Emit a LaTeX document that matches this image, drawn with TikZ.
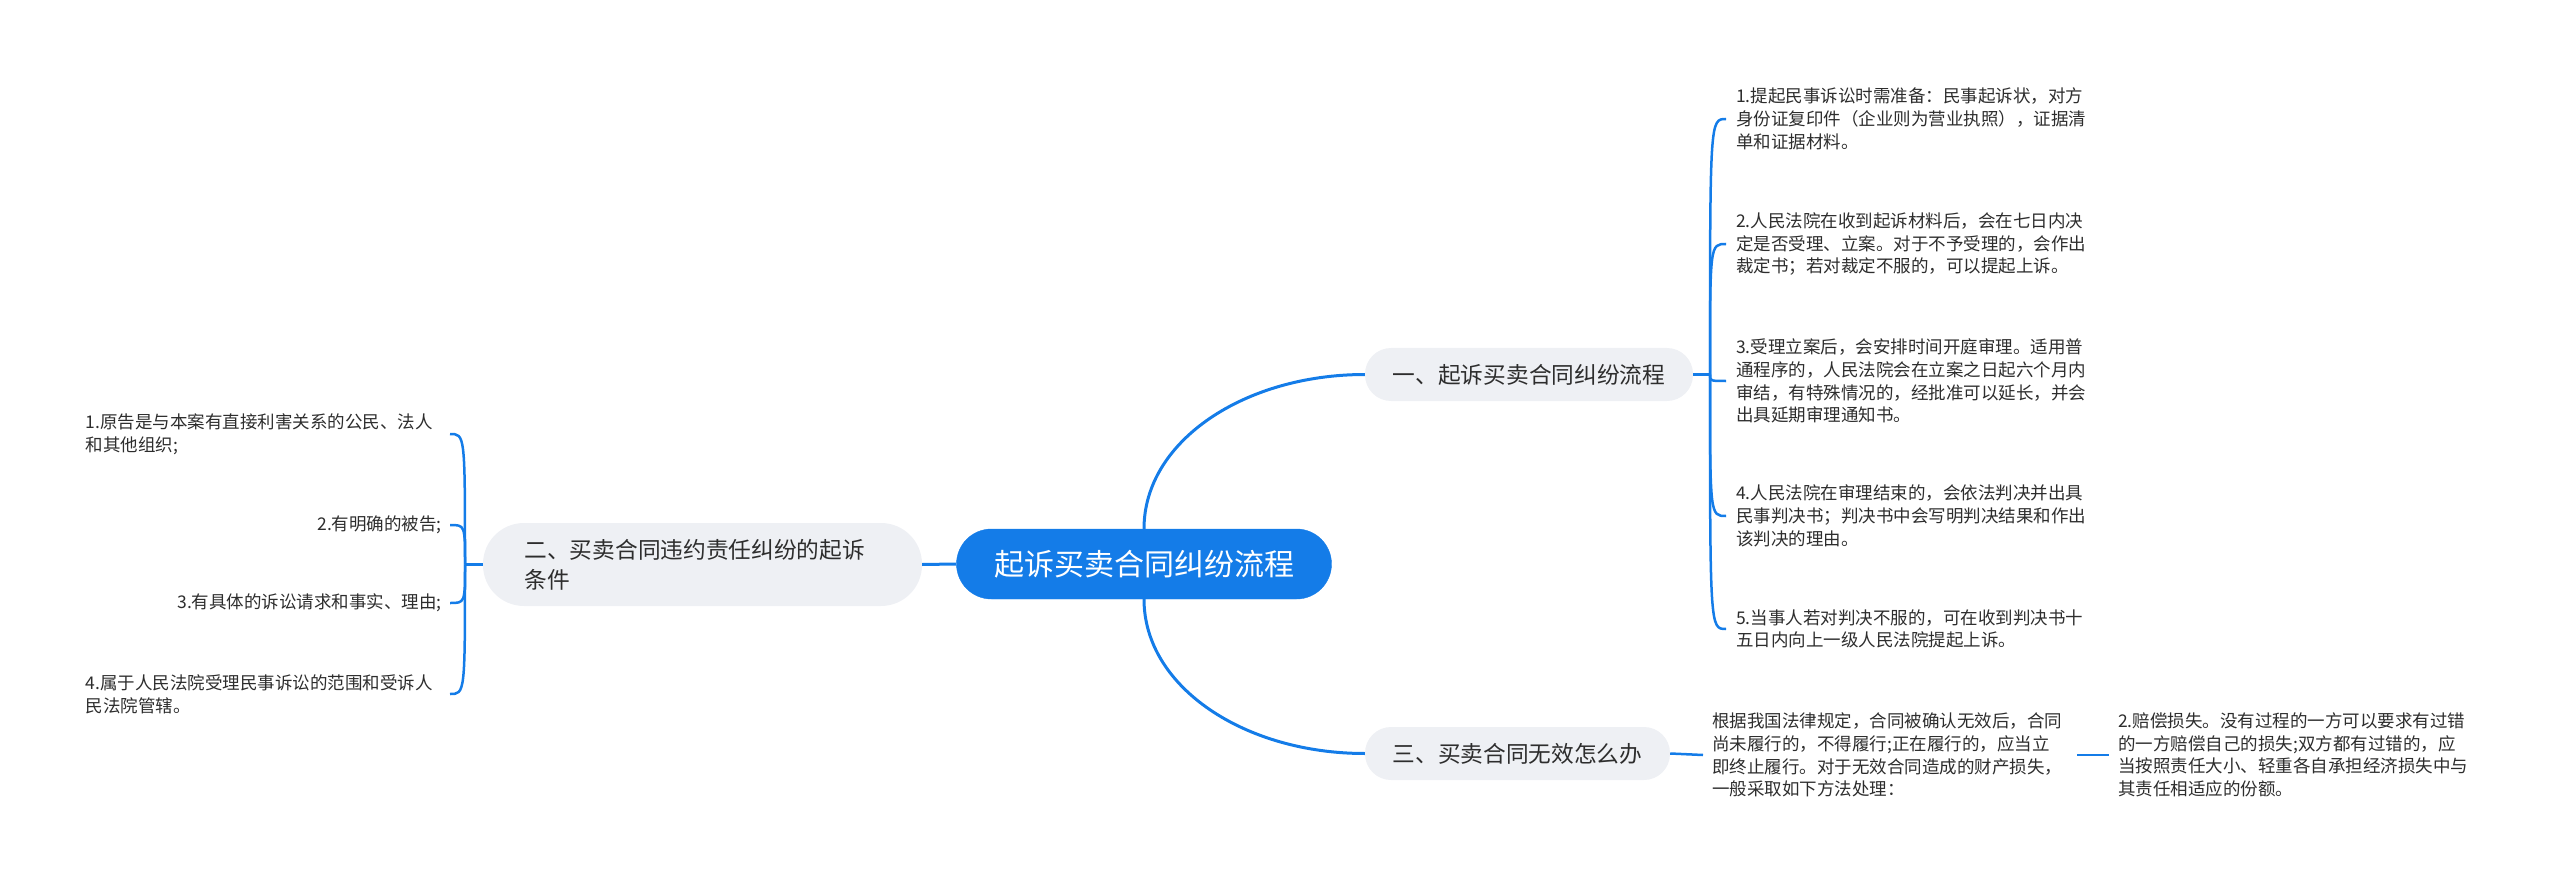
\documentclass[tikz,border=0pt]{standalone}
\usepackage{fontspec}
\setmainfont{Noto Sans CJK SC}
\definecolor{mblue}{RGB}{20,124,232}
\definecolor{mgray}{RGB}{238,240,244}
\definecolor{mtext}{RGB}{45,45,45}
\begin{document}
\begin{tikzpicture}[x=1pt,y=-1pt,
  rootbox/.style={fill=mblue,draw=mblue,rounded corners=35pt,minimum width=375pt,minimum height=70pt,
    text=white,font=\fontsize{30pt}{36pt}\selectfont,inner sep=0pt},
  branchbox/.style={fill=mgray,draw=none,rounded corners=26pt,minimum height=53pt,
    text=mtext,font=\fontsize{22.7pt}{30pt}\selectfont,inner sep=0pt},
  leaf/.style={text=mtext,font=\fontsize{17.5pt}{22.7pt}\selectfont,inner ysep=0pt,inner xsep=10pt,align=left},
  mainlink/.style={draw=mblue,line width=3pt},
  sublink/.style={draw=mblue,line width=2.5pt}
]
\useasboundingbox (0,0) rectangle (2560,885);
% root and branches
\node[rootbox] (root) at (1144,564) {起诉买卖合同纠纷流程};
\node[branchbox,minimum width=328pt] (b1) at (1529,374.5) {一、起诉买卖合同纠纷流程};
\node[branchbox,minimum width=305pt] (b3) at (1517.5,753.5) {三、买卖合同无效怎么办};
\node[branchbox,rounded corners=41pt,minimum height=83pt,text width=356pt,inner xsep=41.5pt,align=left] (b2) at (702.5,564.5) {二、买卖合同违约责任纠纷的起诉\\条件};

% right children of branch 1
\node[leaf,text width=356pt,anchor=west] (c1) at (1726,119) {1.提起民事诉讼时需准备：民事起诉状，对方\\身份证复印件（企业则为营业执照），证据清\\单和证据材料。};
\node[leaf,text width=356pt,anchor=west] (c2) at (1726,244) {2.人民法院在收到起诉材料后，会在七日内决\\定是否受理、立案。对于不予受理的，会作出\\裁定书；若对裁定不服的，可以提起上诉。};
\node[leaf,text width=356pt,anchor=west] (c3) at (1726,381) {3.受理立案后，会安排时间开庭审理。适用普\\通程序的，人民法院会在立案之日起六个月内\\审结，有特殊情况的，经批准可以延长，并会\\出具延期审理通知书。};
\node[leaf,text width=356pt,anchor=west] (c4) at (1726,516) {4.人民法院在审理结束的，会依法判决并出具\\民事判决书；判决书中会写明判决结果和作出\\该判决的理由。};
\node[leaf,text width=356pt,anchor=west] (c5) at (1726,629) {5.当事人若对判决不服的，可在收到判决书十\\五日内向上一级人民法院提起上诉。};

% left children of branch 2
\node[leaf,text width=356pt,inner xsep=8pt,anchor=east] (d1) at (450,434) {1.原告是与本案有直接利害关系的公民、法人\\和其他组织;};
\node[leaf,inner xsep=8pt,anchor=east] (d2) at (450,525) {2.有明确的被告;};
\node[leaf,inner xsep=8pt,anchor=east] (d3) at (450,603) {3.有具体的诉讼请求和事实、理由;};
\node[leaf,text width=356pt,inner xsep=8pt,anchor=east] (d4) at (450,694) {4.属于人民法院受理民事诉讼的范围和受诉人\\民法院管辖。};

% branch 3 children
\node[leaf,text width=356pt,inner xsep=9pt,anchor=west] (e1) at (1703,755) {根据我国法律规定，合同被确认无效后，合同\\尚未履行的，不得履行;正在履行的，应当立\\即终止履行。对于无效合同造成的财产损失，\\一般采取如下方法处理：};
\node[leaf,text width=356pt,inner xsep=9pt,anchor=west] (e2) at (2109,755) {2.赔偿损失。没有过程的一方可以要求有过错\\的一方赔偿自己的损失;双方都有过错的，应\\当按照责任大小、轻重各自承担经济损失中与\\其责任相适应的份额。};

% junction points
\coordinate (j1) at (1710,374.5);
\coordinate (j2) at (465,564.5);

% main connectors
\path[mainlink] (root.north) .. controls +(0,-88) and +(-120,0) .. (b1.west);
\path[mainlink] (root.south) .. controls +(0,88) and +(-120,0) .. (b3.west);
\path[mainlink] (root.west) -- (b2.east);

% branch 1 bracket
\path[sublink] (b1.east) -- (j1);
\foreach \c in {c1,c2,c3,c4,c5}
  \path[sublink] (j1) .. controls (j1 |- \c.west) .. (\c.west);

% branch 2 bracket
\path[sublink] (b2.west) -- (j2);
\foreach \c in {d1,d2,d3,d4}
  \path[sublink] (j2) .. controls (j2 |- \c.east) .. (\c.east);

% branch 3 chain
\path[sublink] (b3.east) -- (e1.west);
\path[sublink] (e1.east) -- (e2.west);
\end{tikzpicture}
\end{document}
